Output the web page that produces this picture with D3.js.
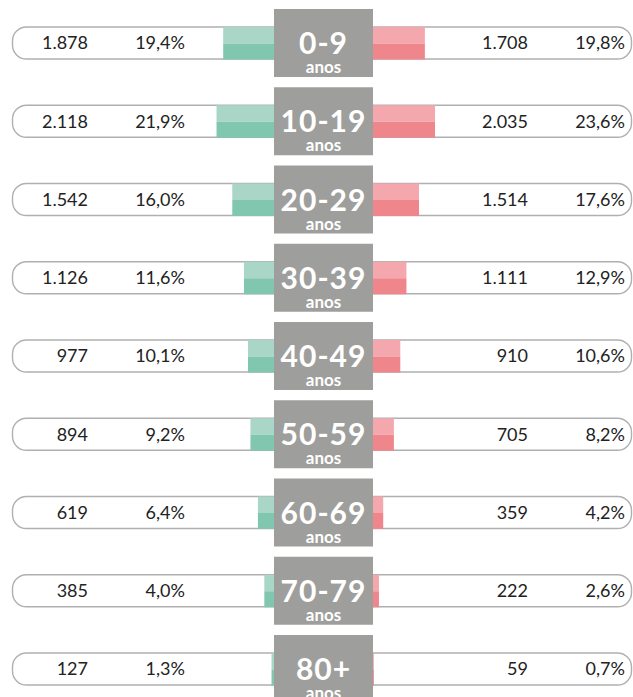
<!DOCTYPE html>
<html>
<head>
<meta charset="utf-8">
<script src="https://cdn.jsdelivr.net/npm/d3@7"></script>
<style>
  body { margin: 0; background: #fff; }
  svg { display: block; }
</style>
</head>
<body>
<div id="chart"></div>
<script>
// Age groups and counts / shares per sex
var ageGroups = ["0-9", "10-19", "20-29", "30-39", "40-49", "50-59", "60-69", "70-79", "80+"];
var leftCounts = ["1.878", "2.118", "1.542", "1.126", "977", "894", "619", "385", "127"];
var leftPct = [19.4, 21.9, 16.0, 11.6, 10.1, 9.2, 6.4, 4.0, 1.3];
var rightCounts = ["1.708", "2.035", "1.514", "1.111", "910", "705", "359", "222", "59"];
var rightPct = [19.8, 23.6, 17.6, 12.9, 10.6, 8.2, 4.2, 2.6, 0.7];

var width = 633, height = 697;
var boxL = 274, boxR = 373;

var svg = d3.select("#chart").append("svg")
    .attr("width", width)
    .attr("height", height);

// vertical position of each row (centre)
var y = d3.scalePoint()
    .domain(ageGroups)
    .range([43, 669]);

// bar length by share
var xLeft = d3.scaleLinear().domain([0, 25]).range([boxL + 1, boxL + 1 - 66.75]);
var xRight = d3.scaleLinear().domain([0, 25]).range([boxR - 1, boxR - 1 + 66.75]);

var fmt = function(v) { return v.toFixed(1).replace(".", ",") + "%"; };

var rows = svg.selectAll(".row")
    .data(ageGroups)
    .enter().append("g")
    .attr("class", "row")
    .attr("transform", function(d) { return "translate(0," + y(d) + ")"; });

// the rounded frame
rows.append("rect")
    .attr("x", 12.5)
    .attr("y", -16)
    .attr("width", 619)
    .attr("height", 32)
    .attr("rx", 14)
    .attr("fill", "#fff")
    .attr("stroke", "#b0b0b0")
    .attr("stroke-width", 1.4);

// left bars (two tones)
rows.append("rect")
    .attr("x", function(d, i) { return xLeft(leftPct[i]); })
    .attr("y", -16)
    .attr("width", function(d, i) { return xLeft(0) - xLeft(leftPct[i]); })
    .attr("height", 16.5)
    .attr("fill", "#a9d6c6");
rows.append("rect")
    .attr("x", function(d, i) { return xLeft(leftPct[i]); })
    .attr("y", 0.5)
    .attr("width", function(d, i) { return xLeft(0) - xLeft(leftPct[i]); })
    .attr("height", 16)
    .attr("fill", "#81c6af");

// right bars
rows.append("rect")
    .attr("x", xRight(0))
    .attr("y", -16)
    .attr("width", function(d, i) { return xRight(rightPct[i]) - xRight(0); })
    .attr("height", 16.5)
    .attr("fill", "#f4a8ad");
rows.append("rect")
    .attr("x", xRight(0))
    .attr("y", 0.5)
    .attr("width", function(d, i) { return xRight(rightPct[i]) - xRight(0); })
    .attr("height", 16)
    .attr("fill", "#ef868b");

// grey label box
rows.append("rect")
    .attr("x", boxL)
    .attr("y", -34)
    .attr("width", boxR - boxL)
    .attr("height", 68)
    .attr("fill", "#9e9e9c");

rows.append("text")
    .attr("x", (boxL + boxR) / 2)
    .attr("y", 11)
    .attr("text-anchor", "middle")
    .attr("font-family", "Lato, sans-serif")
    .attr("font-weight", "bold")
    .attr("font-size", 30)
    .attr("letter-spacing", 1)
    .attr("fill", "#fff")
    .text(function(d) { return d; });

rows.append("text")
    .attr("x", (boxL + boxR) / 2)
    .attr("y", 30)
    .attr("text-anchor", "middle")
    .attr("font-family", "Lato, sans-serif")
    .attr("font-weight", "bold")
    .attr("font-size", 17)
    .attr("fill", "#fff")
    .text("anos");

// numbers
var numStyle = function(sel) {
    sel.attr("text-anchor", "end")
        .attr("font-family", "Lato, sans-serif")
        .attr("font-size", 18)
        .attr("fill", "#222")
        .attr("dy", "0.35em");
};

rows.append("text").attr("x", 88).call(numStyle)
    .text(function(d, i) { return leftCounts[i]; });
rows.append("text").attr("x", 185).call(numStyle)
    .text(function(d, i) { return fmt(leftPct[i]); });
rows.append("text").attr("x", 528).call(numStyle)
    .text(function(d, i) { return rightCounts[i]; });
rows.append("text").attr("x", 625).call(numStyle)
    .text(function(d, i) { return fmt(rightPct[i]); });
</script>
</body>
</html>
